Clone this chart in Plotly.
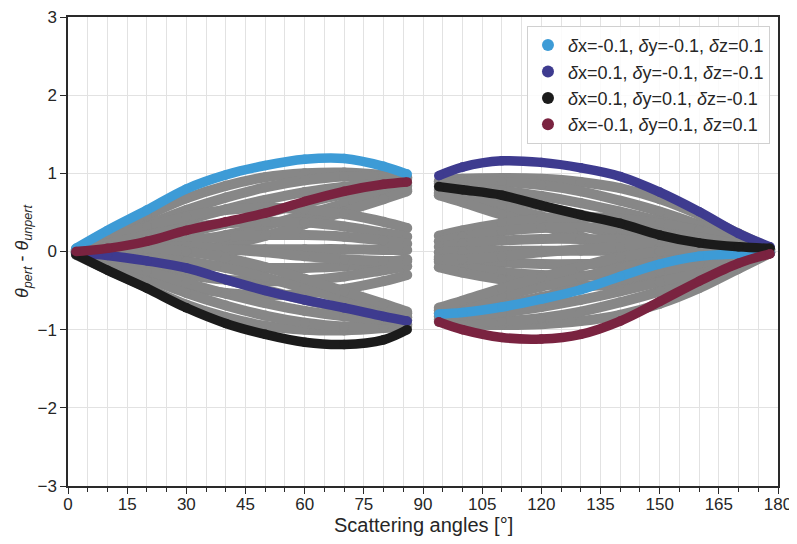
import plotly.graph_objects as go

# Scattering angles sampled on each side of the 90° gap
angles_left = [2, 10, 20, 30, 40, 50, 60, 70, 80, 86]
angles_right = [94, 100, 110, 120, 130, 140, 150, 160, 170, 178]

# Highlighted perturbations
labels = [
    "<i>δ</i>x=-0.1, <i>δ</i>y=-0.1, <i>δ</i>z=0.1",
    "<i>δ</i>x=0.1, <i>δ</i>y=-0.1, <i>δ</i>z=-0.1",
    "<i>δ</i>x=0.1, <i>δ</i>y=0.1, <i>δ</i>z=-0.1",
    "<i>δ</i>x=-0.1, <i>δ</i>y=0.1, <i>δ</i>z=0.1",
]
colors = ["#3d9bd6", "#3e3b8f", "#1b1b1b", "#7a2340"]

blue_left = [0.04, 0.27, 0.53, 0.80, 0.98, 1.10, 1.18, 1.19, 1.09, 0.99]
navy_left = [-0.02, -0.05, -0.12, -0.21, -0.36, -0.50, -0.62, -0.72, -0.83, -0.89]
black_left = [-0.04, -0.24, -0.47, -0.72, -0.92, -1.06, -1.16, -1.19, -1.13, -1.00]
maroon_left = [0.00, 0.04, 0.13, 0.27, 0.38, 0.49, 0.64, 0.77, 0.86, 0.89]

blue_right = [-0.80, -0.78, -0.71, -0.61, -0.49, -0.32, -0.16, -0.06, -0.03, -0.02]
navy_right = [0.97, 1.08, 1.16, 1.14, 1.07, 0.96, 0.76, 0.51, 0.23, 0.06]
black_right = [0.83, 0.79, 0.72, 0.59, 0.47, 0.36, 0.21, 0.11, 0.06, 0.04]
maroon_right = [-0.90, -1.00, -1.10, -1.12, -1.06, -0.89, -0.64, -0.38, -0.15, -0.03]

# Remaining (grey) perturbations, estimated from the grey bundle
grey_left = [
    [0.03, 0.22, 0.46, 0.68, 0.84, 0.95, 1.00, 1.01, 0.98, 0.95],
    [0.02, 0.15, 0.34, 0.53, 0.69, 0.82, 0.91, 0.96, 0.96, 0.93],
    [0.02, 0.11, 0.25, 0.40, 0.54, 0.66, 0.76, 0.83, 0.87, 0.88],
    [0.01, 0.06, 0.14, 0.24, 0.36, 0.49, 0.62, 0.73, 0.81, 0.84],
    [0.00, 0.02, 0.06, 0.12, 0.21, 0.33, 0.47, 0.61, 0.73, 0.79],
    [0.00, -0.03, -0.04, 0.00, 0.08, 0.20, 0.35, 0.51, 0.67, 0.77],
    [0.02, 0.16, 0.32, 0.45, 0.53, 0.56, 0.54, 0.48, 0.38, 0.30],
    [0.01, 0.10, 0.21, 0.30, 0.36, 0.38, 0.37, 0.32, 0.24, 0.19],
    [0.01, 0.05, 0.10, 0.15, 0.19, 0.21, 0.21, 0.19, 0.14, 0.10],
    [0.00, 0.01, 0.02, 0.03, 0.03, 0.03, 0.03, 0.03, 0.02, 0.02],
    [-0.01, -0.05, -0.10, -0.15, -0.19, -0.21, -0.21, -0.19, -0.14, -0.10],
    [-0.01, -0.10, -0.21, -0.30, -0.36, -0.38, -0.37, -0.32, -0.24, -0.19],
    [-0.02, -0.16, -0.32, -0.45, -0.53, -0.56, -0.54, -0.48, -0.38, -0.30],
    [0.00, 0.04, 0.06, 0.06, 0.03, -0.01, -0.06, -0.10, -0.12, -0.12],
    [-0.04, -0.23, -0.46, -0.68, -0.84, -0.95, -1.00, -1.01, -0.98, -0.95],
    [-0.03, -0.16, -0.34, -0.53, -0.69, -0.82, -0.91, -0.96, -0.96, -0.93],
    [-0.03, -0.12, -0.25, -0.40, -0.54, -0.66, -0.76, -0.83, -0.87, -0.88],
    [-0.02, -0.07, -0.14, -0.24, -0.36, -0.49, -0.62, -0.73, -0.81, -0.84],
    [-0.01, -0.03, -0.06, -0.12, -0.21, -0.33, -0.47, -0.61, -0.73, -0.79],
    [-0.01, 0.02, 0.04, 0.00, -0.08, -0.20, -0.35, -0.51, -0.67, -0.77],
]
grey_right = [
    [0.90, 0.93, 0.94, 0.93, 0.89, 0.81, 0.67, 0.47, 0.23, 0.04],
    [0.87, 0.89, 0.89, 0.85, 0.77, 0.65, 0.51, 0.34, 0.16, 0.03],
    [0.83, 0.82, 0.78, 0.71, 0.62, 0.51, 0.39, 0.26, 0.12, 0.03],
    [0.79, 0.76, 0.68, 0.58, 0.47, 0.36, 0.25, 0.15, 0.07, 0.02],
    [0.75, 0.69, 0.57, 0.45, 0.33, 0.21, 0.12, 0.06, 0.02, 0.01],
    [0.72, 0.63, 0.47, 0.33, 0.19, 0.07, 0.00, -0.04, -0.03, 0.01],
    [0.20, 0.27, 0.36, 0.42, 0.44, 0.42, 0.36, 0.27, 0.14, 0.03],
    [0.13, 0.19, 0.26, 0.30, 0.31, 0.29, 0.24, 0.18, 0.09, 0.02],
    [0.06, 0.10, 0.14, 0.16, 0.16, 0.15, 0.12, 0.09, 0.05, 0.02],
    [-0.01, 0.00, 0.01, 0.01, 0.01, 0.01, 0.01, 0.01, 0.01, 0.01],
    [-0.07, -0.11, -0.14, -0.16, -0.16, -0.15, -0.12, -0.09, -0.05, -0.01],
    [-0.13, -0.19, -0.26, -0.30, -0.31, -0.29, -0.24, -0.18, -0.09, -0.01],
    [-0.20, -0.27, -0.36, -0.42, -0.44, -0.42, -0.36, -0.27, -0.14, -0.02],
    [-0.10, -0.10, -0.06, -0.01, 0.03, 0.05, 0.05, 0.04, 0.03, 0.01],
    [-0.90, -0.93, -0.94, -0.93, -0.89, -0.81, -0.67, -0.47, -0.22, -0.02],
    [-0.87, -0.89, -0.89, -0.85, -0.77, -0.65, -0.51, -0.34, -0.15, -0.02],
    [-0.83, -0.82, -0.78, -0.71, -0.62, -0.51, -0.39, -0.26, -0.11, -0.01],
    [-0.79, -0.76, -0.68, -0.58, -0.47, -0.36, -0.25, -0.15, -0.06, -0.01],
    [-0.75, -0.69, -0.57, -0.45, -0.33, -0.21, -0.12, -0.06, -0.02, 0.00],
    [-0.72, -0.63, -0.47, -0.33, -0.19, -0.07, 0.00, 0.04, 0.03, 0.00],
]

x_ticks = [0, 15, 30, 45, 60, 75, 90, 105, 120, 135, 150, 165, 180]
y_ticks = [-3, -2, -1, 0, 1, 2, 3]

LW_GREY = 10
LW = 9.5
GREY = "#878787"
FONT = "Liberation Sans, Arial, sans-serif"
TXT = "#262626"

fig = go.Figure()

def add_curve(x, y, color, w):
    fig.add_trace(go.Scatter(
        x=x, y=y, mode="lines+markers",
        line=dict(color=color, width=w, shape="spline", smoothing=1.0),
        marker=dict(color=color, size=w, line=dict(width=0)),
        showlegend=False, hoverinfo="skip"))

for ys in grey_left:
    add_curve(angles_left, ys, GREY, LW_GREY)
for ys in grey_right:
    add_curve(angles_right, ys, GREY, LW_GREY)

left_sets = [blue_left, navy_left, black_left, maroon_left]
right_sets = [blue_right, navy_right, black_right, maroon_right]
for yl, yr, c in zip(left_sets, right_sets, colors):
    add_curve(angles_left, yl, c, LW)
    add_curve(angles_right, yr, c, LW)

for i, (lab, c) in enumerate(zip(labels, colors)):
    fig.add_trace(go.Scatter(
        x=[None], y=[None], mode="markers", name=lab,
        marker=dict(color=c, size=12), legendgroup=f"g{i}"))

axis_common = dict(
    showline=True, linecolor="#2a2a2a", linewidth=1.5, mirror=True,
    ticks="outside", ticklen=6, tickwidth=1.3, tickcolor="#2a2a2a",
    tickfont=dict(family=FONT, size=17, color=TXT),
    showgrid=True, gridcolor="#e2e2e2", gridwidth=1, zeroline=False,
    automargin=False, ticklabeloverflow="allow",
)

fig.update_xaxes(
    range=[0, 180], tickvals=x_ticks, **axis_common,
    ticklabelstandoff=-4,
    minor=dict(dtick=5, tick0=0, ticks="outside", ticklen=4, tickwidth=1.2,
               tickcolor="#2a2a2a", showgrid=True, gridcolor="#e2e2e2"),
)
fig.update_yaxes(
    range=[-3, 3], tickvals=y_ticks, **axis_common,
    title=dict(text="<i>θ</i><sub><i>pert</i></sub> - <i>θ</i><sub><i>unpert</i></sub>",
               standoff=4, font=dict(family=FONT, size=18, color=TXT)),
)

fig.add_annotation(
    text="Scattering angles [°]", xref="paper", yref="paper",
    x=0.5, y=-0.0832, xanchor="center", yanchor="middle", showarrow=False,
    font=dict(family=FONT, size=20, color=TXT))

fig.update_layout(
    width=788, height=528,
    margin=dict(l=60, r=18, t=9, b=50),
    paper_bgcolor="white", plot_bgcolor="white",
    legend=dict(
        x=0.9887, xanchor="right", y=0.981, yanchor="top",
        bgcolor="rgba(255,255,255,0.85)", bordercolor="#d0d0d0", borderwidth=1,
        font=dict(family=FONT, size=18, color=TXT),
        tracegroupgap=0, itemsizing="constant",
    ),
)

fig.write_html("out.html")
